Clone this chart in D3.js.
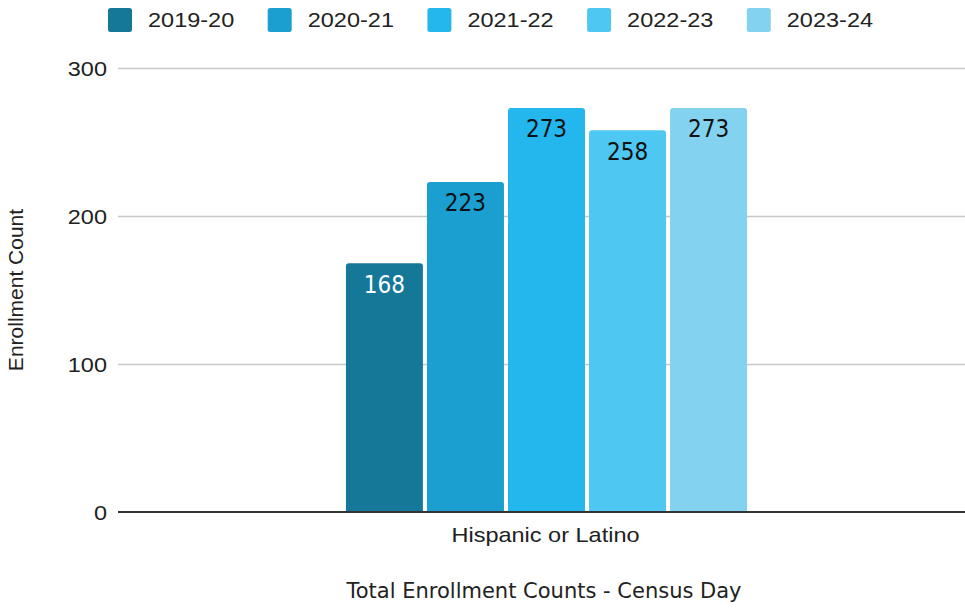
<!DOCTYPE html>
<html>
<head>
<meta charset="utf-8">
<script src="https://cdn.jsdelivr.net/npm/d3@7"></script>
<style>
  html, body { margin: 0; padding: 0; background: #fff; }
  svg { display: block; }
</style>
</head>
<body>
<svg id="chart" width="965" height="610"></svg>
<script>
// Enrollment counts by school year for one demographic group
const categories = ["Hispanic or Latino"];
const seriesNames = ["2019-20", "2020-21", "2021-22", "2022-23", "2023-24"];
const seriesColors = ["#167899", "#1a9fd0", "#23b7ee", "#4fc7f3", "#83d2f0"];
const labelColors = ["#ffffff", "#111111", "#111111", "#111111", "#111111"];
const values = [[168, 223, 273, 258, 273]]; // one row per category, one column per series
const yTicks = [0, 100, 200, 300];
const yTitle = "Enrollment Count";
const xTitle = "Total Enrollment Counts - Census Day";

const svg = d3.select("#chart");
const sansFont = "'Liberation Sans', Arial, sans-serif";
const labelFont = "'DejaVu Sans', Verdana, sans-serif";
const stretch = 1.12; // horizontal widening used for axis and legend text

const plot = { left: 118, right: 975, top: 68, bottom: 512 };

const y = d3.scaleLinear().domain([0, 300]).range([plot.bottom, plot.top]);
const x0 = d3.scaleBand().domain(categories).range([plot.left, plot.right])
  .paddingInner(0.358).paddingOuter(0.358);
const x1 = d3.scaleBand().domain(seriesNames).range([0, x0.bandwidth()])
  .paddingInner(0.05).paddingOuter(0.025);

// Gridlines
svg.append("g").selectAll("line")
  .data(yTicks.filter(t => t !== 0))
  .join("line")
  .attr("x1", plot.left).attr("x2", 965)
  .attr("y1", d => Math.round(y(d)) + 0.5).attr("y2", d => Math.round(y(d)) + 0.5)
  .attr("stroke", "#c8c8c8").attr("stroke-width", 1.3);

// Y tick labels
svg.append("g").selectAll("text")
  .data(yTicks)
  .join("text")
  .attr("transform", d => `translate(107,${y(d) + 7.5}) scale(${stretch},1)`)
  .attr("text-anchor", "end")
  .attr("font-family", sansFont).attr("font-size", 21)
  .attr("fill", "#222")
  .text(d => d);

// Bars with rounded top corners
function topRounded(x, yTop, w, h, r) {
  r = Math.min(r, h, w / 2);
  return `M${x},${yTop + h}V${yTop + r}Q${x},${yTop} ${x + r},${yTop}` +
    `H${x + w - r}Q${x + w},${yTop} ${x + w},${yTop + r}V${yTop + h}Z`;
}

const groups = svg.append("g").selectAll("g")
  .data(categories.map((c, i) => ({ c, row: values[i] })))
  .join("g")
  .attr("transform", d => `translate(${x0(d.c)},0)`);

groups.selectAll("path")
  .data(d => d.row.map((v, j) => ({ v, j })))
  .join("path")
  .attr("d", d => topRounded(x1(seriesNames[d.j]), y(d.v), x1.bandwidth(), y(0) - y(d.v), 3))
  .attr("fill", d => seriesColors[d.j]);

groups.selectAll("text")
  .data(d => d.row.map((v, j) => ({ v, j })))
  .join("text")
  .attr("transform", d => `translate(${x1(seriesNames[d.j]) + x1.bandwidth() / 2},${y(d.v) + 29.5}) scale(0.9,1)`)
  .attr("text-anchor", "middle")
  .attr("font-family", labelFont).attr("font-size", 24)
  .attr("fill", d => labelColors[d.j])
  .text(d => d.v);

// Zero baseline
svg.append("line")
  .attr("x1", plot.left).attr("x2", 965)
  .attr("y1", y(0)).attr("y2", y(0))
  .attr("stroke", "#333").attr("stroke-width", 2);

// Category labels
svg.append("g").selectAll("text")
  .data(categories)
  .join("text")
  .attr("transform", d => `translate(${x0(d) + x0.bandwidth() / 2 - 1},542) scale(${stretch},1)`)
  .attr("text-anchor", "middle")
  .attr("font-family", sansFont).attr("font-size", 21)
  .attr("fill", "#222")
  .text(d => d);

// Axis titles
svg.append("text")
  .attr("transform", `translate(544,598)`)
  .attr("text-anchor", "middle")
  .attr("font-family", labelFont).attr("font-size", 21)
  .attr("fill", "#222")
  .text(xTitle);

svg.append("text")
  .attr("transform", `translate(23,${(plot.top + plot.bottom) / 2}) rotate(-90)`)
  .attr("text-anchor", "middle")
  .attr("font-family", sansFont).attr("font-size", 21)
  .attr("fill", "#222")
  .text(yTitle);

// Legend: evenly spaced swatch + label entries
const legendStep = 159.7;
const legend = svg.append("g").selectAll("g")
  .data(seriesNames)
  .join("g")
  .attr("transform", (d, i) => `translate(${108 + i * legendStep},0)`);
legend.append("rect")
  .attr("x", 0).attr("y", 8).attr("width", 24).attr("height", 24)
  .attr("rx", 2.5).attr("fill", (d, i) => seriesColors[i]);
legend.append("text")
  .attr("transform", `translate(40,27) scale(${stretch},1)`)
  .attr("font-family", sansFont).attr("font-size", 21)
  .attr("fill", "#222")
  .text(d => d);
</script>
</body>
</html>
